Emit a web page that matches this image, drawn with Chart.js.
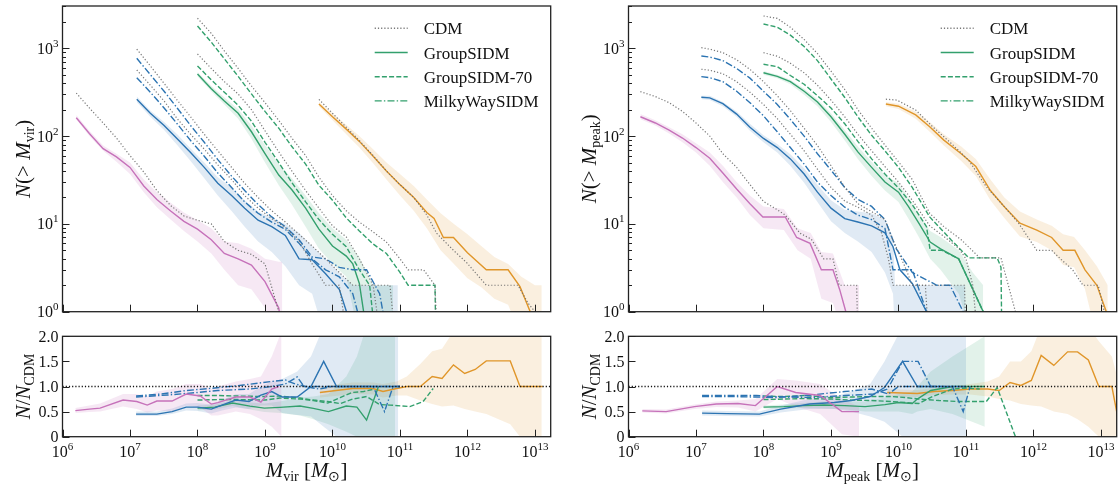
<!DOCTYPE html>
<html>
<head>
<meta charset="utf-8">
<script src="https://cdn.jsdelivr.net/npm/chart.js@4.4.1/dist/chart.umd.min.js"></script>
<style>
  html, body { margin: 0; padding: 0; background: #fff; }
  #wrap { position: relative; width: 1118px; height: 486px; }
  #wrap canvas { position: absolute; left: 0; top: 0; }
</style>
</head>
<body>
<div id="wrap">
  <canvas id="virCounts" width="1118" height="486"></canvas>
  <canvas id="virRatio" width="1118" height="486"></canvas>
  <canvas id="peakCounts" width="1118" height="486"></canvas>
  <canvas id="peakRatio" width="1118" height="486"></canvas>
</div>
<script>
// axis ticks
var massTicks = [1e6, 1e7, 1e8, 1e9, 1e10, 1e11, 1e12, 1e13];
var countTicks = [1, 10, 100, 1000];
var ratioTicks = [0, 0.5, 1, 1.5, 2];
var massMax = 1.71e13;
var countMax = 3030;
var legendNames = ["CDM", "GroupSIDM", "GroupSIDM-70", "MilkyWaySIDM"];

// ---------- N(>M_vir) ----------
var vPinkM = [1.6e6, 2.5e6, 4e6, 6.3e6, 1e7, 1.6e7, 2.5e7, 4e7, 6.3e7, 1e8, 1.6e8, 2.5e8, 4e8, 6.3e8, 1e9, 1.6e9, 1.8e9];
var vPinkCdm = [309, 209, 141, 95, 60, 39, 24, 16.2, 12.3, 11, 10, 6.3, 5, 4.5, 3.5, 1.0, 0.6];
var vPinkSidm = [162, 107, 72, 58, 44, 27, 19, 14, 10.7, 8.7, 6.6, 4.6, 4.0, 3.4, 2.2, 1.1, 0.6];
var vPinkHi = [174, 115, 78, 63, 50, 32, 23, 17.4, 13.5, 11, 8.9, 6.3, 6.0, 5.2, 4.0, 3.7, 3.7];
var vPinkLo = [155, 100, 68, 51, 37, 23, 15.5, 11.2, 8.3, 6.3, 4.6, 3.0, 2.0, 1.8, 1.1, 0.5, 0.5];

var vBlueM = [1.26e7, 2e7, 3.2e7, 5e7, 7.9e7, 1.26e8, 2e8, 3.2e8, 5e8, 7.9e8, 1.26e9, 2e9, 3.2e9, 5e9, 7.9e9, 1.26e10, 2e10, 3.2e10, 5e10, 7.9e10];
var vBlueSidm = [263, 182, 132, 93, 65, 44, 29, 21, 15.1, 11, 9.3, 7.4, 4.0, 3.9, 2.7, 1.8, 0.6];
var vBlueHi = [282, 195, 145, 105, 72, 50, 34, 26, 18.6, 13.8, 11.7, 10, 7.9, 5.6, 4.0, 2.8, 2, 2, 2, 2, 2];
var vBlueLo = [245, 166, 117, 79, 52, 33, 21, 14, 9.3, 6.3, 4.8, 3.3, 2.0, 1.6, 0.5, 0.5, 0.5, 0.5, 0.5, 0.5, 0.5];
var vMwCdm = [977, 631, 398, 257, 166, 105, 68, 44, 29, 20, 14.1, 10.5, 7.6, 5.6, 4.0, 2.8, 2, 2, 2, 2, 0.6];
var vMwSidm = [769, 501, 324, 209, 132, 85, 54, 35, 24, 16.6, 12, 9.3, 6.6, 4.2, 4.0, 3.2, 3.0, 3.0, 1.6, 0.6];
var vBlueCdm = [566, 380, 251, 158, 105, 71, 47, 32, 21, 15.1, 11.5, 9.1, 6.3, 3.5, 2, 2, 0.6];
var vBlueMw = [462, 316, 209, 138, 89, 59, 38, 26, 17.8, 13.2, 10.5, 8.7, 6.0, 4.0, 3.0, 2.5, 1.6, 0.6];

var vGreenM = [1e8, 1.6e8, 2.5e8, 4e8, 6.3e8, 1e9, 1.6e9, 2.5e9, 4e9, 6.3e9, 1e10, 1.6e10, 2.5e10, 4e10, 6.3e10, 1e11];
var vGreenSidm = [510, 347, 251, 182, 112, 63, 36, 24.5, 15.1, 8.7, 5.6, 4.3, 3.5, 2.1, 0.6];
var vGreenCdm = [861, 589, 417, 302, 200, 115, 66, 40, 24, 15.1, 9.5, 7.1, 4.0, 2.0, 0.6];
var vGreen70 = [628, 437, 316, 224, 148, 85, 50, 29.5, 17.8, 11.2, 7.6, 5.5, 3.0, 2.0, 0.6];
var vGroup70 = [1795, 1175, 759, 479, 302, 191, 123, 76, 48, 27.5, 18.6, 11.7, 8.3, 5.9, 4.6, 2.8, 2.0, 2.0, 0.5];
var vGroupCdm = [2198, 1479, 933, 589, 372, 240, 151, 95, 60, 34, 21, 14.1, 10.5, 8.1, 6.2, 4.0, 3.0, 3.0, 2.0, 0.5];
var vGreenHi = [537, 372, 275, 204, 132, 79, 48, 33, 21, 13.2, 8.9, 6.6, 4.2, 2, 2];
var vGreenLo = [479, 324, 229, 158, 93, 50, 27.5, 16.6, 9.3, 5.2, 3.5, 2.5, 0.5, 0.5, 0.5];

var vOrangeSidmM = [6.3e9, 1e10, 1.6e10, 2.5e10, 4e10, 6.3e10, 1e11, 1.6e11, 2.5e11, 3.2e11, 4.4e11, 6.2e11, 1e12, 1.9e12, 4e12, 6e12, 8.5e12, 9.3e12];
var vOrangeSidm = [232, 166, 120, 87, 59, 40, 28, 20, 13.5, 11.5, 7, 7, 4.7, 3, 3, 1.93, 1, 0.5];
var vOrangeCdmM = [6.3e9, 1e10, 1.6e10, 2.5e10, 4e10, 6.3e10, 1e11, 1.6e11, 2.5e11, 3.5e11, 6.2e11, 9.8e11, 1.9e12, 5.6e12, 7.9e12, 1e13, 1.05e13];
var vOrangeCdm = [262, 182, 126, 89, 60, 40, 28, 20, 12.6, 7.8, 5, 3.6, 2, 2, 1.25, 1, 0.5];
var vOrangeBandM = [6.3e9, 1e10, 1.6e10, 2.5e10, 4e10, 6.3e10, 1e11, 1.6e11, 2.5e11, 4e11, 6.3e11, 1e12, 1.6e12, 2.5e12, 4e12, 6.3e12, 1e13, 1.26e13];
var vOrangeHi = [245, 182, 135, 100, 71, 50, 37, 27, 19, 13.2, 10, 7.6, 5.6, 4.2, 3.5, 2.5, 2, 2];
var vOrangeLo = [219, 151, 105, 74, 49, 32, 21, 14.1, 8.9, 5, 3.5, 2.4, 1.9, 1.4, 1.2, 0.5, 0.5, 0.5];

// ---------- N(>M_peak) ----------
var pPinkSidmM = [1.5e6, 2.5e6, 4e6, 6.3e6, 1e7, 1.6e7, 2.5e7, 4e7, 6.3e7, 9.8e7, 2.1e8, 3.1e8, 4.9e8, 7.2e8, 1.07e9, 1.35e9, 1.66e9, 1.78e9];
var pPinkSidm = [166, 141, 117, 95, 74, 56, 38, 25, 17, 12, 12, 7, 6, 3, 3, 1.77, 1, 0.5];
var pPinkCdmM = [1.5e6, 2.5e6, 4e6, 6.3e6, 1e7, 1.6e7, 2.5e7, 4e7, 6.3e7, 1e8, 1.6e8, 2.1e8, 3.5e8, 5.1e8, 7.8e8, 1.07e9, 1.32e9, 2.4e9, 2.5e9];
var pPinkCdm = [321, 282, 240, 191, 141, 100, 63, 44, 28, 18, 14.5, 12.6, 7.8, 6.7, 4, 4, 2, 2, 0.5];
var pPinkBandM = [1.5e6, 2.5e6, 4e6, 6.3e6, 1e7, 1.6e7, 2.5e7, 4e7, 6.3e7, 1e8, 2e8, 3.2e8, 5e8, 7.2e8, 1.07e9, 1.6e9, 2.6e9];
var pPinkHi = [178, 151, 126, 105, 83, 65, 46, 30, 21, 15.8, 14.8, 8.9, 7.9, 4.8, 4.6, 2, 2];
var pPinkLo = [155, 132, 107, 85, 65, 46, 30, 20, 12.6, 8.9, 8.5, 5, 4, 1.4, 1.26, 0.5, 0.5];

var pBlueM = [1.2e7, 1.6e7, 2.5e7, 4e7, 6.3e7, 1e8, 1.6e8, 2.5e8, 4e8, 6.3e8, 1e9, 1.6e9, 2.5e9, 4e9, 6.3e9];
var pBlueSidm = [277, 272, 234, 178, 126, 94, 74, 55, 37, 23, 15.1, 11.5, 10.5, 9.5, 7.9, 5.5, 3, 2.1, 1, 0.5];
var pBlueHi = [288, 288, 245, 191, 138, 102, 81, 62, 43, 28, 18.6, 14.5, 13.8, 13.2, 11.2, 7.1, 2, 2];
var pBlueLo = [263, 257, 219, 166, 115, 85, 65, 46, 29.5, 17.8, 10.7, 7.9, 6.3, 4.8, 2.8, 1.6, 0.5, 0.5];
var pMwCdm = [1016, 977, 891, 741, 575, 417, 288, 195, 123, 78, 46, 26, 17, 13.8, 11.2, 7.1, 3.2, 2, 2, 0.5];
var pMwSidm = [817, 794, 724, 589, 457, 324, 229, 155, 100, 63, 41, 26, 19, 15.8, 11.2, 5.2, 2.8, 2, 2, 1, 0.5];
var pBlueCdm = [577, 562, 513, 417, 316, 229, 158, 105, 68, 42, 26, 18.2, 15.5, 12.6, 7.9, 4, 2, 2, 0.5];
var pBlueMw = [475, 462, 417, 324, 240, 170, 112, 74, 48, 30, 21, 15.5, 12.6, 11.2, 8.9, 3, 3, 1, 0.5];

var pGreenM = [1e8, 1.6e8, 2.5e8, 4e8, 6.3e8, 1e9, 1.6e9, 2.5e9, 4e9, 6.3e9, 1e10];
var pGreenSidm = [527, 479, 417, 324, 245, 166, 105, 66, 44, 30, 23, 15.8, 10.2, 6.2, 5.2, 4, 1, 0.5];
var pGreen70 = [658, 617, 490, 389, 288, 209, 138, 87, 55, 37, 25.7, 16.6, 9.3, 5, 5, 4, 1, 0.5];
var pGreenCdm = [891, 813, 676, 525, 380, 257, 166, 105, 68, 45, 30, 18.6, 9.5, 7.2, 5.2, 4, 2, 0.5];
var pGroupCdm = [2333, 2188, 1738, 1259, 871, 550, 339, 200, 123, 79, 51, 32, 13.2, 9.3, 6.6, 4.1, 4.1, 1, 0.5];
var pGroup70 = [1892, 1738, 1413, 1047, 724, 447, 275, 166, 102, 68, 44, 26, 12, 6.6, 4.1, 4.1, 3.2, 0.5];
var pGreenHi = [550, 501, 437, 347, 263, 182, 117, 76, 51, 36, 29, 20, 13.2, 8.3, 7.1, 5, 2.8, 2];
var pGreenLo = [501, 457, 389, 295, 219, 145, 89, 55, 35, 24, 17.8, 11.5, 7.1, 4, 3, 1.6, 0.5, 0.5];

var pOrangeSidmM = [6.5e9, 1e10, 1.8e10, 2.9e10, 4.7e10, 8.5e10, 1.4e11, 2.3e11, 3.7e11, 6.3e11, 1.12e12, 1.86e12, 2.75e12, 4.1e12, 5.8e12, 8.7e12, 1.2e13, 1.32e13];
var pOrangeSidm = [232, 219, 174, 128, 90, 63, 45, 24, 15.7, 10.2, 8.5, 7, 5, 5, 3, 2, 1, 0.5];
var pOrangeCdmM = [6.5e9, 9.5e9, 1.8e10, 3.2e10, 6e10, 1.1e11, 2e11, 3.7e11, 6e11, 1.12e12, 1.86e12, 2.6e12, 3.8e12, 5.4e12, 9.1e12, 1.12e13, 1.2e13];
var pOrangeCdm = [263, 257, 198, 128, 83, 53, 26.5, 15.7, 10.2, 5, 5, 3.9, 3, 2, 2, 1, 0.5];
var pOrangeBandM = [6.5e9, 1e10, 1.8e10, 2.9e10, 4.7e10, 8.5e10, 1.4e11, 2.3e11, 3.7e11, 6.3e11, 1.12e12, 1.86e12, 2.75e12, 4e12, 5.8e12, 8.7e12, 1.26e13];
var pOrangeHi = [245, 234, 191, 145, 105, 76, 55, 32, 20, 13.8, 11.2, 9.5, 7.6, 7.1, 5, 3.3, 2];
var pOrangeLo = [219, 204, 158, 112, 78, 52, 35, 18.6, 11.7, 7.2, 6.2, 5, 3.4, 3.2, 1.8, 0.5, 0.5];

// ---------- N/N_CDM vs M_vir ----------
var rvPinkM = [1.55e6, 2.5e6, 3.6e6, 7.9e6, 1.26e7, 1.8e7, 2.5e7, 4.2e7, 6.8e7, 1.1e8, 1.6e8, 2e8, 3.7e8, 6e8, 8.7e8, 1.26e9, 1.6e9];
var rvPink = [0.52, 0.55, 0.57, 0.73, 0.70, 0.63, 0.71, 0.71, 0.85, 0.81, 0.65, 0.68, 0.79, 0.79, 0.69, 0.95, 1.0];
var rvPinkBandM = [1.55e6, 2.5e6, 3.6e6, 7.9e6, 1.26e7, 1.8e7, 2.5e7, 4.2e7, 6.8e7, 1.1e8, 1.6e8, 2e8, 3.7e8, 6e8, 8.7e8, 1.26e9, 1.76e9];
var rvPinkHi = [0.57, 0.62, 0.66, 0.85, 0.85, 0.80, 0.90, 0.95, 1.05, 1.05, 0.95, 1.0, 1.1, 1.15, 1.2, 1.6, 2.1];
var rvPinkLo = [0.47, 0.49, 0.50, 0.60, 0.55, 0.48, 0.52, 0.50, 0.62, 0.58, 0.42, 0.42, 0.50, 0.45, 0.35, 0.2, 0.0];

var rvBlueM = [1.23e7, 2.5e7, 4.2e7, 6.8e7, 1e8, 1.6e8, 2.3e8, 3.7e8, 5.8e8, 8.7e8, 1.26e9, 1.8e9, 3e9, 4.8e9, 7.4e9, 1.15e10, 1e11];
var rvBlue = [0.45, 0.45, 0.50, 0.59, 0.59, 0.55, 0.63, 0.73, 0.70, 0.83, 0.90, 0.79, 0.79, 1.0, 1.5, 1.0, 1.0];
var rvBlueBandM = [1.23e7, 2.5e7, 4.2e7, 6.8e7, 1e8, 1.6e8, 2.3e8, 3.7e8, 5.8e8, 8.7e8, 1.26e9, 1.8e9, 3e9, 4.8e9, 7.4e9, 1.15e10, 9.4e10];
var rvBlueHi = [0.50, 0.50, 0.56, 0.66, 0.67, 0.64, 0.73, 0.85, 0.85, 1.0, 1.1, 1.15, 1.3, 1.6, 2.2, 2.2, 2.2];
var rvBlueLo = [0.41, 0.41, 0.45, 0.52, 0.51, 0.46, 0.52, 0.58, 0.55, 0.62, 0.62, 0.47, 0.43, 0.40, 0.20, 0.0, 0.0];
var rvMwAM = [1.23e7, 2.9e7, 6.8e7, 1.8e8, 4.8e8, 1.26e9, 2e9, 2.8e9, 4e9, 6.3e9, 1e10, 4e10, 5.9e10, 7.9e10, 1e11];
var rvMwA = [0.81, 0.85, 0.92, 0.97, 1.03, 1.10, 1.13, 1.05, 1.0, 1.0, 1.0, 1.0, 0.5, 1.0, 1.0];
var rvMwBM = [1.23e7, 3.6e7, 9.8e7, 2e8, 6e8, 1.26e9, 2e9, 3e9, 3.8e9, 6.3e9, 1e10, 1e11];
var rvMwB = [0.79, 0.83, 0.88, 0.92, 0.95, 1.0, 1.05, 1.19, 1.0, 0.95, 1.0, 1.0];

var rvGreenM = [1e8, 1.8e8, 3.3e8, 6e8, 9.8e8, 1.66e9, 3.3e9, 5.2e9, 8.7e9, 1.6e10, 2.3e10, 3.2e10, 4.8e10];
var rvGreen = [0.57, 0.59, 0.67, 0.61, 0.57, 0.585, 0.61, 0.565, 0.50, 0.61, 0.59, 0.33, 1.0];
var rvGreenBandM = [1e8, 1.8e8, 3.3e8, 6e8, 9.8e8, 1.66e9, 3.3e9, 5.2e9, 8.7e9, 1.6e10, 2.3e10, 3.2e10, 4.8e10, 8.5e10];
var rvGreenHi = [0.62, 0.64, 0.72, 0.68, 0.66, 0.70, 0.78, 0.80, 0.85, 1.2, 1.6, 2.2, 2.2, 2.2];
var rvGreenLo = [0.52, 0.54, 0.61, 0.54, 0.49, 0.47, 0.42, 0.35, 0.25, 0.10, 0.0, 0.0, 0.0, 0.0];
var rvG70AM = [1e8, 2e8, 4e8, 1e9, 1.66e9, 3.3e9, 5.2e9, 8.5e9, 1.3e10, 1.95e10, 2.9e10, 4.2e10];
var rvG70A = [0.73, 0.74, 0.74, 0.73, 0.77, 0.75, 0.72, 0.67, 0.78, 0.88, 0.90, 0.95];
var rvG70BM = [1e8, 2e8, 4e8, 1e9, 1.66e9, 3.3e9, 5.2e9, 8.5e9, 1.3e10, 2e10, 3.2e10, 5e10, 7.1e10, 1.4e11, 2.2e11, 3.1e11];
var rvG70B = [0.82, 0.82, 0.81, 0.80, 0.81, 0.77, 0.73, 0.70, 0.66, 0.75, 0.80, 0.64, 0.63, 0.60, 0.70, 0.96];

var rvOrangeM = [6.5e9, 1.3e10, 2e10, 4e10, 5.6e10, 8.9e10, 1.26e11, 2e11, 3e11, 4.2e11, 6.2e11, 9.1e11, 1.3e12, 1.9e12, 4.3e12, 6e12, 1.3e13];
var rvOrange = [0.88, 0.93, 0.96, 0.96, 0.90, 0.96, 1.0, 1.0, 1.2, 1.16, 1.43, 1.26, 1.34, 1.51, 1.51, 1.0, 1.0];
var rvOrangeBandM = [6.5e9, 1.3e10, 2e10, 4e10, 5.6e10, 8.9e10, 1.26e11, 2e11, 3e11, 4.2e11, 6.2e11, 9.1e11, 1.3e12, 1.9e12, 4.3e12, 6e12, 1.26e13];
var rvOrangeHi = [1.0, 1.05, 1.08, 1.08, 1.05, 1.1, 1.2, 1.45, 1.7, 1.75, 2.1, 2.1, 2.2, 2.2, 2.2, 2.2, 2.2];
var rvOrangeLo = [0.78, 0.82, 0.85, 0.84, 0.78, 0.82, 0.82, 0.72, 0.65, 0.60, 0.62, 0.55, 0.50, 0.45, 0.25, 0.0, 0.0];

// ---------- N/N_CDM vs M_peak ----------
var rpPinkM = [1.6e6, 3.6e6, 9.5e6, 2e7, 4.2e7, 7.6e7, 1.6e8, 3e8, 6.9e8, 1.45e9, 2.6e9];
var rpPink = [0.515, 0.50, 0.60, 0.65, 0.66, 0.62, 1.0, 0.88, 0.82, 0.5, 0.5];
var rpPinkHi = [0.55, 0.54, 0.64, 0.70, 0.72, 0.75, 1.15, 1.12, 1.05, 0.75, 0.6];
var rpPinkLo = [0.48, 0.46, 0.55, 0.59, 0.58, 0.50, 0.75, 0.60, 0.45, 0.05, 0.0];

var rpBlueM = [1.23e7, 2.9e7, 8.7e7, 1.8e8, 4.8e8, 1.12e9, 2e9, 3.8e9, 6.2e9, 1.15e10, 1.9e10, 1e11];
var rpBlue = [0.47, 0.46, 0.45, 0.55, 0.65, 0.68, 0.72, 0.80, 0.98, 1.5, 1.0, 1.0];
var rpBlueHi = [0.52, 0.51, 0.50, 0.62, 0.75, 0.80, 0.90, 1.05, 1.5, 2.2, 2.2, 2.2];
var rpBlueLo = [0.42, 0.41, 0.40, 0.48, 0.55, 0.55, 0.50, 0.40, 0.30, 0.0, 0.0, 0.0];
var rpMwAM = [1.23e7, 3.2e7, 7.9e7, 1.4e8, 4.8e8, 1.6e9, 4.3e9, 6.9e9, 1.15e10, 1.95e10, 3e10, 6.3e10, 9.1e10, 1.15e11];
var rpMwA = [0.82, 0.82, 0.82, 0.80, 0.78, 0.82, 0.85, 0.95, 1.5, 1.5, 1.0, 1.0, 0.5, 1.0];
var rpMwBM = [1.23e7, 3.2e7, 7.9e7, 1.6e8, 5e8, 1.6e9, 4e9, 7.1e9, 1e10, 2e10, 4e10];
var rpMwB = [0.80, 0.80, 0.79, 0.78, 0.83, 0.90, 0.95, 0.85, 1.0, 1.0, 1.0];

var rpGreenM = [1e8, 2e8, 4e8, 7.9e8, 1.6e9, 3.2e9, 6.3e9, 1e10, 1.6e10, 1.9e10, 3e10, 6.3e10, 1.9e11];
var rpGreen = [0.59, 0.60, 0.62, 0.63, 0.62, 0.60, 0.64, 0.68, 0.66, 0.75, 0.92, 1.0, 1.0];
var rpGreenHi = [0.62, 0.64, 0.67, 0.70, 0.70, 0.70, 0.78, 0.85, 0.90, 1.0, 1.3, 1.6, 2.0];
var rpGreenLo = [0.56, 0.56, 0.57, 0.56, 0.54, 0.50, 0.50, 0.50, 0.45, 0.50, 0.55, 0.45, 0.20];
var rpG70AM = [1e8, 2e8, 4e8, 1e9, 2e9, 4e9, 7.9e9, 1.26e10, 2e10, 3.2e10, 6.3e10, 1e11, 1.6e11];
var rpG70A = [0.74, 0.75, 0.76, 0.75, 0.73, 0.72, 0.70, 0.68, 0.66, 0.80, 0.95, 0.97, 0.95];
var rpG70BM = [1e8, 2e8, 4e8, 1e9, 2e9, 4e9, 7.9e9, 1.26e10, 2e10, 4e10, 7.9e10, 1.26e11, 2e11, 2.9e11, 5.4e11];
var rpG70B = [0.81, 0.80, 0.82, 0.78, 0.79, 0.80, 0.80, 0.78, 0.75, 0.72, 0.70, 0.70, 0.70, 0.98, 0.0];

var rpOrangeM = [6.8e9, 1.9e10, 3.4e10, 6.3e10, 1.15e11, 2.1e11, 3.1e11, 4.5e11, 6.5e11, 9.3e11, 1.3e12, 2e12, 3.2e12, 4.5e12, 6.5e12, 9.3e12, 1.45e13, 1.9e13];
var rpOrange = [0.88, 0.86, 0.90, 0.92, 0.95, 0.95, 0.92, 1.08, 1.02, 1.12, 1.62, 1.42, 1.69, 1.69, 1.53, 1.0, 1.0, 0.18];
var rpOrangeHi = [0.95, 0.93, 0.97, 1.0, 1.05, 1.1, 1.2, 1.5, 1.5, 1.7, 2.2, 2.2, 2.2, 2.2, 2.2, 1.9, 1.6, 1.0];
var rpOrangeLo = [0.80, 0.79, 0.83, 0.84, 0.84, 0.80, 0.75, 0.72, 0.65, 0.62, 0.60, 0.50, 0.45, 0.35, 0.2, 0.0, 0.0, 0.0];

var unityM = [1e6, 2e13];
var unityR = [1, 1];

// colours and line styles
var pink = "#c672ba", blue = "#2c74b2", green = "#33a06d", orange = "#e0962a", grey = "rgba(105,105,105,0.9)";
var bandAlpha = { pink: "rgba(200,115,188,0.16)", blue: "rgba(44,116,178,0.15)", green: "rgba(51,160,109,0.14)", orange: "rgba(224,150,42,0.15)" };
var DOT = [1.2, 2], DASH = [5, 2.2], DASHDOT = [7, 2.2, 1.4, 2.2], SOLID = [];
var SERIF = '"Liberation Serif", "Times New Roman", serif';

function pts(xs, ys) {
    return ys.map(function (y, i) { return { x: xs[i], y: y }; });
}

function curve(xs, ys, color, dash, width) {
    return { data: pts(xs, ys), borderColor: color, borderDash: dash, borderWidth: width || 1.4, fill: false, order: 1 };
}

function band(xs, hi, lo, color) {
    return [
        { data: pts(xs, hi), borderWidth: 0, borderColor: "transparent", backgroundColor: color, fill: "+1", order: 3 },
        { data: pts(xs, lo), borderWidth: 0, borderColor: "transparent", fill: false, order: 3 }
    ];
}

// text made of pieces with different fonts
function runsWidth(ctx, runs) {
    var w = 0;
    runs.forEach(function (r) { ctx.font = r.f; w += ctx.measureText(r.t).width; });
    return w;
}
function drawRuns(ctx, runs, x, y) {
    runs.forEach(function (r) {
        ctx.font = r.f;
        ctx.fillText(r.t, x, y + (r.dy || 0));
        x += ctx.measureText(r.t).width;
    });
}
function powRuns(e) {
    return [{ t: "10", f: "16px " + SERIF }, { t: String(e), f: "11px " + SERIF, dy: -7 }];
}
function big(t, it) { return { t: t, f: (it ? "italic " : "") + "21px " + SERIF }; }
function sub(t) { return { t: t, f: "14px " + SERIF, dy: 4 }; }

var framePlugin = {
    id: "frame",
    afterDraw: function (chart, args, o) {
        var ctx = chart.ctx, a = chart.chartArea, sx = chart.scales.x, sy = chart.scales.y;
        ctx.save();
        ctx.fillStyle = "#111";
        ctx.strokeStyle = "#222";
        ctx.textBaseline = "alphabetic";

        // ticks, pointing inward
        ctx.lineWidth = 1;
        ctx.beginPath();
        massTicks.forEach(function (v) {
            var px = Math.round(sx.getPixelForValue(v)) + 0.5;
            ctx.moveTo(px, a.bottom); ctx.lineTo(px, a.bottom - 7);
        });
        if (o.kind === "count") {
            countTicks.forEach(function (v) {
                for (var k = 1; k <= 9; k++) {
                    var val = v * k;
                    if (val > countMax) break;
                    var py = Math.round(sy.getPixelForValue(val)) + 0.5;
                    ctx.moveTo(a.left, py); ctx.lineTo(a.left + (k === 1 ? 7 : 3.5), py);
                }
            });
        } else {
            ratioTicks.forEach(function (v) {
                var py = Math.round(sy.getPixelForValue(v)) + 0.5;
                ctx.moveTo(a.left, py); ctx.lineTo(a.left + 7, py);
            });
        }
        ctx.stroke();

        // frame
        ctx.lineWidth = 1.3;
        ctx.strokeRect(a.left, a.top, a.right - a.left, a.bottom - a.top);

        // y tick labels
        if (o.kind === "count") {
            countTicks.forEach(function (v) {
                var runs = powRuns(Math.round(Math.log10(v)));
                var py = sy.getPixelForValue(v);
                drawRuns(ctx, runs, a.left - 4 - runsWidth(ctx, runs), py + 5.5);
            });
        } else {
            ratioTicks.forEach(function (v) {
                var txt = v === 0 ? "0" : v.toFixed(1);
                ctx.font = "16px " + SERIF;
                var py = sy.getPixelForValue(v);
                ctx.fillText(txt, a.left - 4 - ctx.measureText(txt).width, py + 5.5);
            });
        }

        // x tick labels
        if (o.xLabels) {
            massTicks.forEach(function (v) {
                var runs = powRuns(Math.round(Math.log10(v)));
                var px = sx.getPixelForValue(v);
                drawRuns(ctx, runs, px - runsWidth(ctx, runs) / 2, a.bottom + 20);
            });
        }

        // x title
        if (o.xTitle) {
            var w = runsWidth(ctx, o.xTitle);
            drawRuns(ctx, o.xTitle, (a.left + a.right) / 2 - w / 2, 477);
        }

        // y title, rotated
        var wy = runsWidth(ctx, o.yTitle);
        ctx.save();
        ctx.translate(a.left - 32.5, (a.top + a.bottom) / 2);
        ctx.rotate(-Math.PI / 2);
        drawRuns(ctx, o.yTitle, -wy / 2, 0);
        ctx.restore();

        // legend
        if (o.legend) {
            var styles = [[grey, DOT], [green, SOLID], [green, DASH], [green, DASHDOT]];
            legendNames.forEach(function (name, i) {
                var cy = a.top + 22.3 + i * 24.2;
                ctx.beginPath();
                ctx.strokeStyle = styles[i][0];
                ctx.setLineDash(styles[i][1]);
                ctx.lineWidth = 1.4;
                ctx.moveTo(a.right - 176, cy); ctx.lineTo(a.right - 143, cy);
                ctx.stroke();
                ctx.setLineDash([]);
                ctx.font = "17px " + SERIF;
                ctx.fillStyle = "#111";
                ctx.fillText(name, a.right - 127, cy + 6);
            });
        }
        ctx.restore();
    }
};

function makePanel(id, box, kind, datasets, deco) {
    var yScale = kind === "count"
        ? { type: "logarithmic", min: 1, max: countMax, display: false }
        : { type: "linear", min: 0, max: 2, display: false };
    deco.kind = kind;
    return new Chart(document.getElementById(id), {
        type: "line",
        data: { datasets: datasets },
        options: {
            responsive: false, animation: false, devicePixelRatio: 1, events: [],
            layout: { padding: { left: box[0], top: box[1], right: 1118 - box[2], bottom: 486 - box[3] } },
            elements: { point: { radius: 0 }, line: { tension: 0 } },
            scales: { x: { type: "logarithmic", min: 1e6, max: massMax, display: false }, y: yScale },
            plugins: { legend: { display: false }, tooltip: { enabled: false }, frame: deco }
        },
        plugins: [framePlugin]
    });
}

var leftTop = [62.5, 6, 550.7, 311.7], leftBottom = [62.5, 336.3, 550.7, 436.7];
var rightTop = [628.5, 6, 1116.7, 311.7], rightBottom = [628.5, 336.3, 1116.7, 436.7];

// M_vir counts
makePanel("virCounts", leftTop, "count", [].concat(
    curve(vPinkM, vPinkCdm, grey, DOT, 1.2),
    curve(vPinkM, vPinkSidm, pink, SOLID),
    curve(vBlueM.slice(0, 19).concat([7.1e10, 8.3e10]), vMwCdm, grey, DOT, 1.2),
    curve(vBlueM.slice(0, 16).concat([1.6e10]), vBlueCdm, grey, DOT, 1.2),
    curve(vBlueM.slice(0, 19).concat([6.3e10]), vMwSidm, blue, DASHDOT),
    curve(vBlueM.slice(0, 17).concat([2.8e10]), vBlueMw, blue, DASHDOT),
    curve(vBlueM.slice(0, 17), vBlueSidm, blue, SOLID),
    curve(vGreenM.concat([1.32e11, 2.24e11, 3.3e11, 3.55e11]), vGroupCdm, grey, DOT, 1.2),
    curve(vGreenM.slice(0, 14).concat([5e10]), vGreenCdm, grey, DOT, 1.2),
    curve(vGreenM.concat([1.32e11, 3.3e11, 3.4e11]), vGroup70, green, DASH),
    curve(vGreenM.slice(0, 13).concat([3.55e10, 4.2e10]), vGreen70, green, DASH),
    curve(vGreenM.slice(0, 12).concat([2e10, 2.5e10, 3.2e10]), vGreenSidm, green, SOLID),
    curve(vOrangeCdmM, vOrangeCdm, grey, DOT, 1.2),
    curve(vOrangeSidmM, vOrangeSidm, orange, SOLID),
    band(vPinkM, vPinkHi, vPinkLo, bandAlpha.pink),
    band(vBlueM.concat([9.3e10]), vBlueHi, vBlueLo, bandAlpha.blue),
    band(vGreenM.slice(0, 13).concat([4e10, 7.9e10]), vGreenHi, vGreenLo, bandAlpha.green),
    band(vOrangeBandM, vOrangeHi, vOrangeLo, bandAlpha.orange)
), {
    legend: true,
    yTitle: [big("N", true), big("(> "), big("M", true), sub("vir"), big(")")]
});

// M_vir ratio
makePanel("virRatio", leftBottom, "ratio", [].concat(
    curve(unityM, unityR, "#111", DOT, 1.3),
    curve(rvPinkM, rvPink, pink, SOLID),
    curve(rvBlueM, rvBlue, blue, SOLID),
    curve(rvMwAM, rvMwA, blue, DASHDOT),
    curve(rvMwBM, rvMwB, blue, DASHDOT),
    curve(rvGreenM, rvGreen, green, SOLID),
    curve(rvG70AM, rvG70A, green, DASH),
    curve(rvG70BM, rvG70B, green, DASH),
    curve(rvOrangeM, rvOrange, orange, SOLID),
    band(rvPinkBandM, rvPinkHi, rvPinkLo, bandAlpha.pink),
    band(rvBlueBandM, rvBlueHi, rvBlueLo, bandAlpha.blue),
    band(rvGreenBandM, rvGreenHi, rvGreenLo, bandAlpha.green),
    band(rvOrangeBandM, rvOrangeHi, rvOrangeLo, bandAlpha.orange)
), {
    xLabels: true,
    xTitle: [big("M", true), sub("vir"), big(" ["), big("M", true), sub("\u2299"), big("]")],
    yTitle: [big("N", true), big("/"), big("N", true), sub("CDM")]
});

// M_peak counts
makePanel("peakCounts", rightTop, "count", [].concat(
    curve(pPinkCdmM, pPinkCdm, grey, DOT, 1.2),
    curve(pPinkSidmM, pPinkSidm, pink, SOLID),
    curve(pBlueM.concat([7.9e9, 1.26e10, 1.6e10, 9.5e10, 1e11]), pMwCdm, grey, DOT, 1.2),
    curve(pBlueM.slice(0, 14).concat([5.6e9, 7.1e9, 8.3e9, 2.5e10, 2.8e10]), pBlueCdm, grey, DOT, 1.2),
    curve(pBlueM.concat([9.3e9, 1.6e10, 3.7e10, 5.8e10, 9.1e10, 1e11]), pMwSidm, blue, DASHDOT),
    curve(pBlueM.concat([8.3e9, 1.6e10, 2.6e10, 2.8e10]), pBlueMw, blue, DASHDOT),
    curve(pBlueM.concat([8.3e9, 1.05e10, 1.6e10, 2.6e10, 2.8e10]), pBlueSidm, blue, SOLID),
    curve(pGreenM.concat([1.6e10, 2.9e10, 4.7e10, 8.5e10, 1.6e11, 3.3e11, 5.4e11, 5.8e11]), pGroupCdm, grey, DOT, 1.2),
    curve(pGreenM.concat([1.6e10, 2.9e10, 4.7e10, 7.9e10, 1e11, 1.26e11, 1.5e11]), pGreenCdm, grey, DOT, 1.2),
    curve(pGreenM.concat([1.6e10, 2.9e10, 6e10, 1.1e11, 2.9e11, 3.3e11, 3.4e11]), pGroup70, green, DASH),
    curve(pGreenM.concat([1.6e10, 2.6e10, 2.95e10, 4.4e10, 7.8e10, 1.8e11, 2e11]), pGreen70, green, DASH),
    curve(pGreenM.concat([1.4e10, 2e10, 2.95e10, 4.2e10, 7.8e10, 1.8e11, 2e11]), pGreenSidm, green, SOLID),
    curve(pOrangeCdmM, pOrangeCdm, grey, DOT, 1.2),
    curve(pOrangeSidmM, pOrangeSidm, orange, SOLID),
    band(pPinkBandM, pPinkHi, pPinkLo, bandAlpha.pink),
    band(pBlueM.concat([8.3e9, 8.9e9, 9.8e10]), pBlueHi, pBlueLo, bandAlpha.blue),
    band(pGreenM.concat([1.4e10, 2e10, 2.95e10, 4.2e10, 7.8e10, 1.26e11, 1.8e11]), pGreenHi, pGreenLo, bandAlpha.green),
    band(pOrangeBandM, pOrangeHi, pOrangeLo, bandAlpha.orange)
), {
    legend: true,
    yTitle: [big("N", true), big("(> "), big("M", true), sub("peak"), big(")")]
});

// M_peak ratio
makePanel("peakRatio", rightBottom, "ratio", [].concat(
    curve(unityM, unityR, "#111", DOT, 1.3),
    curve(rpPinkM, rpPink, pink, SOLID),
    curve(rpBlueM, rpBlue, blue, SOLID),
    curve(rpMwAM, rpMwA, blue, DASHDOT),
    curve(rpMwBM, rpMwB, blue, DASHDOT),
    curve(rpGreenM, rpGreen, green, SOLID),
    curve(rpG70AM, rpG70A, green, DASH),
    curve(rpG70BM, rpG70B, green, DASH),
    curve(rpOrangeM, rpOrange, orange, SOLID),
    band(rpPinkM, rpPinkHi, rpPinkLo, bandAlpha.pink),
    band(rpBlueM, rpBlueHi, rpBlueLo, bandAlpha.blue),
    band(rpGreenM, rpGreenHi, rpGreenLo, bandAlpha.green),
    band(rpOrangeM, rpOrangeHi, rpOrangeLo, bandAlpha.orange)
), {
    xLabels: true,
    xTitle: [big("M", true), sub("peak"), big(" ["), big("M", true), sub("\u2299"), big("]")],
    yTitle: [big("N", true), big("/"), big("N", true), sub("CDM")]
});
</script>
</body>
</html>
